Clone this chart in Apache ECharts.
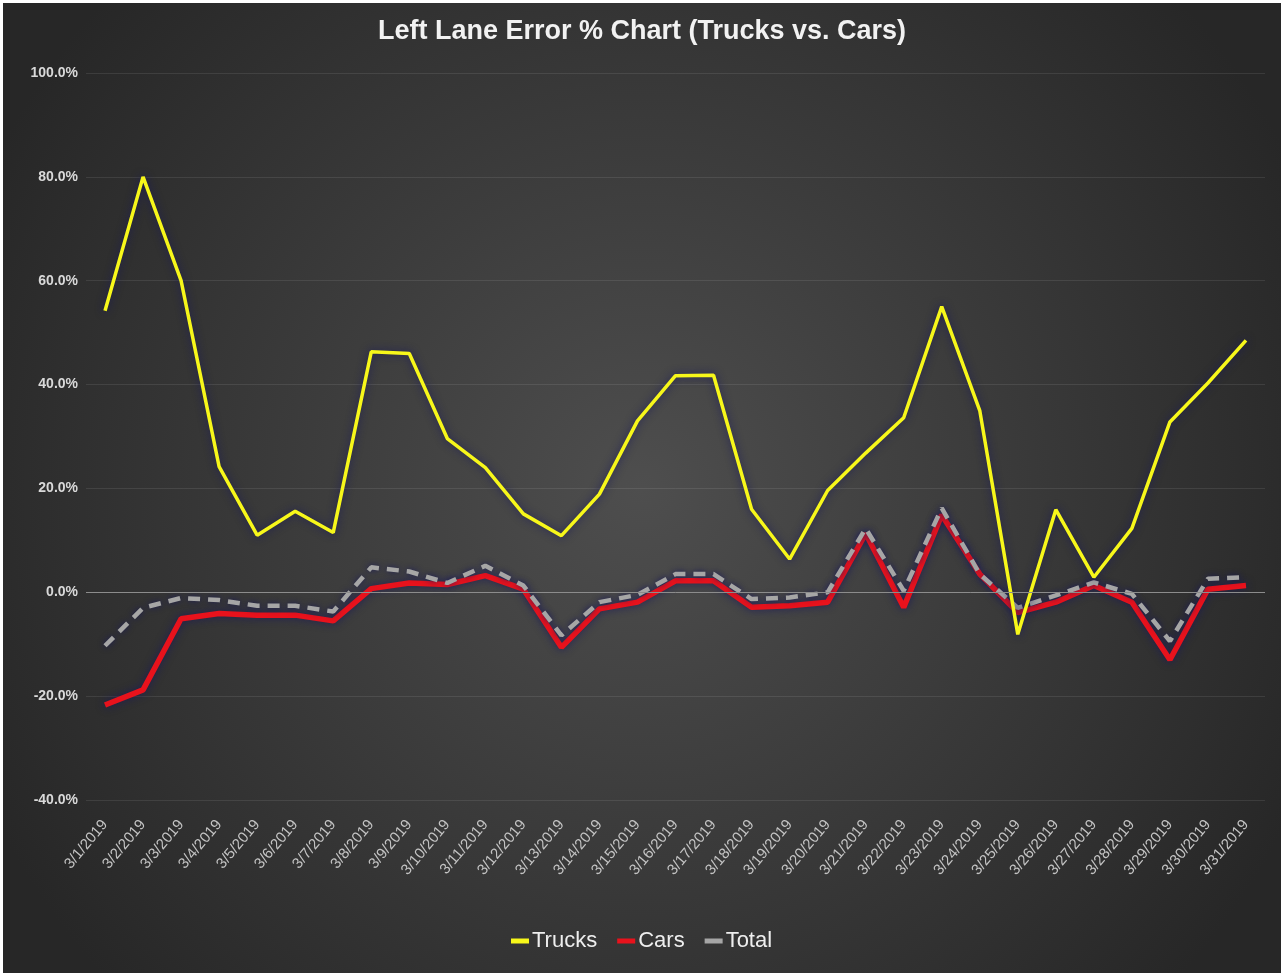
<!DOCTYPE html>
<html>
<head>
<meta charset="utf-8">
<title>Left Lane Error % Chart</title>
<script src="https://cdn.jsdelivr.net/npm/echarts@6/dist/echarts.min.js"></script>
<style>
  html, body { margin: 0; padding: 0; background: #ffffff; }
  #chart { position: absolute; left: 3px; top: 3px; width: 1278px; height: 970px; }
</style>
</head>
<body>
<div id="chart"></div>
<script>
// Daily dates for March 2019
const dates = [
  '3/1/2019','3/2/2019','3/3/2019','3/4/2019','3/5/2019','3/6/2019','3/7/2019','3/8/2019',
  '3/9/2019','3/10/2019','3/11/2019','3/12/2019','3/13/2019','3/14/2019','3/15/2019','3/16/2019',
  '3/17/2019','3/18/2019','3/19/2019','3/20/2019','3/21/2019','3/22/2019','3/23/2019','3/24/2019',
  '3/25/2019','3/26/2019','3/27/2019','3/28/2019','3/29/2019','3/30/2019','3/31/2019'
];

// Left lane error, percent
const trucks = [
  54.2, 80.0, 60.0, 24.2, 11.0, 15.6, 11.5, 46.3, 46.0, 29.6, 24.0, 15.1, 10.9, 18.9, 33.0, 41.7,
  41.8, 16.0, 6.4, 19.6, 26.8, 33.6, 55.0, 35.0, -8.1, 15.9, 2.9, 12.3, 32.8, 40.3, 48.5
];
const cars = [
  -21.7, -18.8, -5.1, -4.1, -4.4, -4.4, -5.5, 0.7, 1.8, 1.5, 3.2, 0.6, -10.6, -3.2, -1.9, 2.2,
  2.2, -2.9, -2.6, -1.9, 11.3, -2.9, 14.9, 3.5, -3.9, -1.9, 1.3, -1.9, -13.0, 0.6, 1.3
];
const total = [
  -10.3, -3.0, -1.1, -1.5, -2.6, -2.6, -3.7, 4.8, 4.0, 1.8, 5.1, 1.3, -8.3, -1.9, -0.5, 3.5,
  3.5, -1.3, -1.0, 0.0, 12.3, 0.3, 16.2, 3.5, -3.0, -0.6, 1.9, -0.3, -9.4, 2.6, 2.9
];

// Y-axis range and step, in percent
const yMin = -40, yMax = 100, yStep = 20;

const sans = "'Liberation Sans', Arial, sans-serif";
const glow = 'rgba(25, 25, 90, 0.85)';

const chart = echarts.init(document.getElementById('chart'));
chart.setOption({
  backgroundColor: {
    type: 'radial', x: 0.5, y: 0.5, r: 0.75,
    colorStops: [
      { offset: 0, color: '#4e4e4e' },
      { offset: 1, color: '#272727' }
    ]
  },
  animation: false,
  title: {
    text: 'Left Lane Error % Chart (Trucks vs. Cars)',
    left: 'center',
    top: 10,
    textStyle: { color: '#f2f2f2', fontSize: 27, fontWeight: 'bold', fontFamily: sans }
  },
  legend: {
    top: 922,
    left: 503,
    itemGap: 20,
    itemWidth: 18,
    itemHeight: 5,
    textStyle: { color: '#eeeeee', fontSize: 22, fontFamily: sans, padding: [0, 0, 0, -2] },
    data: [
      { name: 'Trucks', icon: 'rect' },
      { name: 'Cars', icon: 'rect' },
      { name: 'Total', icon: 'rect' }
    ]
  },
  grid: { left: 83, right: 16, top: 70, bottom: 173 },
  xAxis: {
    type: 'category',
    data: dates,
    boundaryGap: true,
    axisLine: { show: false },
    axisTick: { show: false },
    axisLabel: {
      rotate: 50,
      interval: 0,
      color: '#c4c4c4',
      fontSize: 15,
      fontFamily: sans,
      margin: 22
    },
    splitLine: { show: false }
  },
  yAxis: {
    type: 'value',
    min: yMin,
    max: yMax,
    interval: yStep,
    axisLine: { show: false },
    axisTick: { show: false },
    axisLabel: {
      color: '#d9d9d9',
      fontSize: 14,
      fontWeight: 'bold',
      fontFamily: sans,
      margin: 8,
      formatter: v => v.toFixed(1) + '%'
    },
    splitLine: { lineStyle: { color: 'rgba(255,255,255,0.09)', width: 1 } }
  },
  series: [
    {
      name: 'Trucks',
      type: 'line',
      data: trucks,
      z: 4,
      symbol: 'none',
      itemStyle: { color: '#f7f71a' },
      lineStyle: { color: '#f7f71a', width: 3.5, shadowColor: glow, shadowBlur: 9 }
    },
    {
      name: 'Cars',
      type: 'line',
      data: cars,
      z: 2,
      symbol: 'none',
      itemStyle: { color: '#e8121c' },
      lineStyle: { color: '#e8121c', width: 5.5, shadowColor: glow, shadowBlur: 9 },
      markLine: {
        silent: true,
        symbol: 'none',
        label: { show: false },
        lineStyle: { color: '#8c8c8c', width: 1, type: 'solid', shadowBlur: 0 },
        data: [{ yAxis: 0 }]
      }
    },
    {
      name: 'Total',
      type: 'line',
      data: total,
      z: 3,
      symbol: 'none',
      itemStyle: { color: '#a6a6a6' },
      lineStyle: { color: '#a6a6a6', width: 4.5, type: [12, 8], shadowColor: glow, shadowBlur: 6 }
    }
  ]
});
</script>
</body>
</html>
